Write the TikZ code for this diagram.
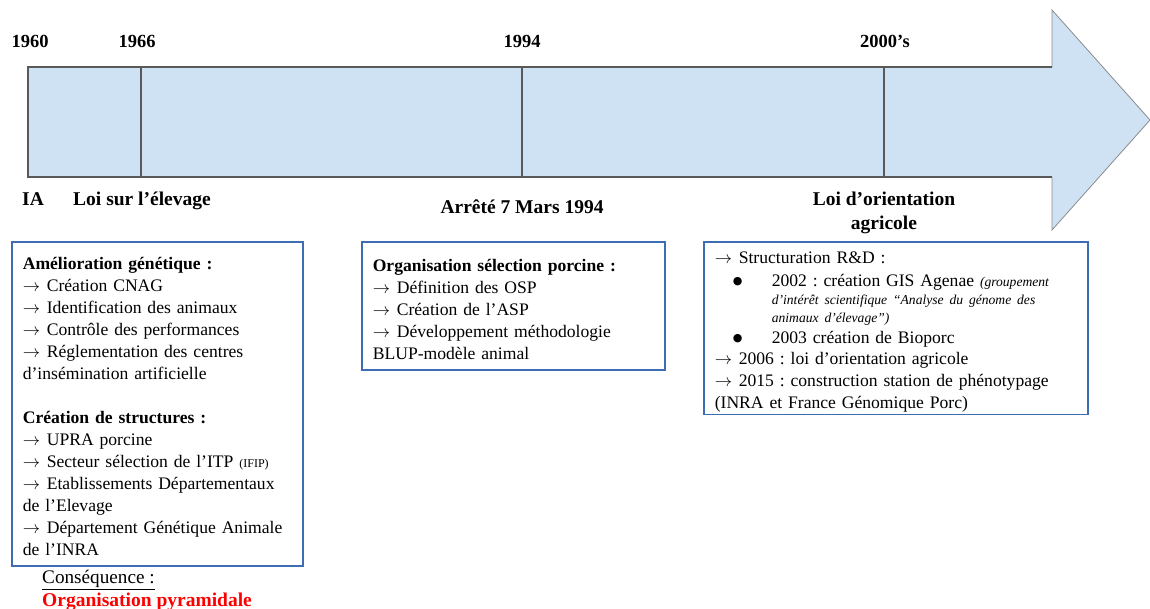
\documentclass[tikz,border=0pt]{standalone}
\usepackage{fontspec}
\setmainfont{Liberation Serif}
\newfontfamily\symbfont{DejaVu Sans}
\usepackage{tikz}
\usetikzlibrary{calc}
\frenchspacing

\definecolor{timeblue}{HTML}{CFE2F3}
\definecolor{boxblue}{HTML}{3D6EB4}
\definecolor{linegray}{HTML}{595959}
\definecolor{conseqred}{HTML}{FF0000}

\begin{document}
\begin{tikzpicture}[x=1pt,y=-1pt]
      \newcommand{\fleche}{\makebox[24pt][l]{$\rightarrow$}}
      \newcommand{\puce}{\makebox[57pt][l]{\hspace*{18pt}\raisebox{2pt}{\symbfont\fontsize{11}{12}\selectfont ●}}}
      \newcommand{\petitit}{\itshape\fontsize{13.6}{18}\selectfont}
      \tikzstyle{tick}=[line width=2pt,draw=linegray]
      \tikzstyle{year}=[font=\fontsize{18.5}{22}\selectfont\bfseries,inner sep=0pt,anchor=base]
      \tikzstyle{event}=[font=\fontsize{19.5}{24}\selectfont\bfseries,align=center,inner sep=0pt,anchor=base]
      \tikzstyle{infobox}=[
        draw=boxblue,
        line width=1.6pt,
        anchor=north west,
        align=left,
        inner xsep=11pt,
        font=\fontsize{17.6}{22}\selectfont,
      ]

      \useasboundingbox (0,0) rectangle (1150,609);

      % la fleche du temps
      \fill[timeblue,draw=linegray!70,line width=0.8pt] (28,67) -- (1052,67) -- (1052,10) -- (1150,120)
        -- (1052,230) -- (1052,177) -- (28,177) -- cycle;
      \draw[tick] (1052,67) -- (28,67) -- (28,177) -- (1052,177);
      \foreach \x in {141,522,884}
        \draw[tick] (\x,67) -- (\x,177);

      \node[year] (y1960) at (30,48) {1960};
      \node[year] (y1966) at (137,48) {1966};
      \node[year] (y1994) at (522,48) {1994};
      \node[year] (y2000) at (885,48) {2000’s};

      \node[event] (ia) at (33,205.5) {IA};
      \node[event] (loi66) at (142,205.5) {Loi sur l’élevage};
      \node[event] (arrete) at (522,213.5) {Arrêté 7 Mars 1994};
      \node[event] (loiorient) at (884,229.5) {Loi d’orientation\\agricole};

      % les encadres
      \node[infobox,text width=269pt,inner ysep=10pt] (amelio) at (11,241) {%
        \rule{0pt}{18pt}\textbf{Amélioration génétique :}\\
        \fleche Création CNAG\\
        \fleche Identification des animaux\\
        \fleche Contrôle des performances\\
        \fleche Réglementation des centres\\
        d’insémination artificielle\\[22pt]
        \textbf{Création de structures :}\\
        \fleche UPRA porcine\\
        \fleche Secteur sélection de l’ITP {\fontsize{12}{13}\selectfont (IFIP)}\\
        \fleche Etablissements Départementaux\\
        de l’Elevage\\
        \fleche Département Génétique Animale\\
        de l’INRA};

      \node[infobox,text width=281pt,inner ysep=10pt] (orgsel) at (361,241) {%
        \rule{0pt}{20pt}\textbf{Organisation sélection porcine :}\\
        \fleche Définition des OSP\\
        \fleche Création de l’ASP\\
        \fleche Développement méthodologie\\
        BLUP-modèle animal};

      \node[infobox,text width=362pt,inner ysep=2pt] (rd) at (703,241) {%
        \rule{0pt}{20pt}\fleche Structuration R\&D :\\[1pt]
        \puce 2002 : création GIS Agenae {\petitit (groupement}\\[-4pt]
        \hspace*{57pt}{\petitit d’intérêt scientifique “Analyse du génome des}\\[-4pt]
        \hspace*{57pt}{\petitit animaux d’élevage”)}\\[-1pt]
        \puce 2003 création de Bioporc\\[-1pt]
        \fleche 2006 : loi d’orientation agricole\\
        \fleche 2015 : construction station de phénotypage\\
        (INRA et France Génomique Porc)};

      \node[anchor=base west,inner sep=0pt,font=\fontsize{19.2}{22}\selectfont] (conseq) at (42,583.5) {\underline{Conséquence :}};
      \node[anchor=base west,inner sep=0pt,font=\fontsize{19.5}{22}\selectfont\bfseries,text=conseqred] (pyram) at (42,606.5) {Organisation pyramidale};
\end{tikzpicture}
\end{document}
